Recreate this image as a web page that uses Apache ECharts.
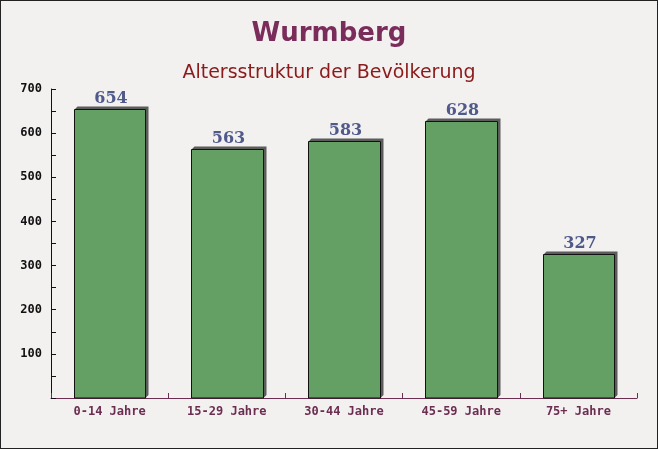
<!DOCTYPE html>
<html>
<head>
<meta charset="utf-8">
<script src="https://cdn.jsdelivr.net/npm/echarts@6/dist/echarts.min.js"></script>
<style>
html,body{margin:0;padding:0;}
#main{width:658px;height:449px;box-sizing:border-box;border:1px solid #222;background:#f3f0f0;}
</style>
</head>
<body>
<div id="main"></div>
<script>
var categories = ["0-14 Jahre", "15-29 Jahre", "30-44 Jahre", "45-59 Jahre", "75+ Jahre"];
var values = [654, 563, 583, 628, 327];
var yTicks = [0, 100, 200, 300, 400, 500, 600, 700];

// bar with a small extruded side, drawn from the axis scales
function renderBar(params, api) {
  var top = api.coord([api.value(0), api.value(1)]);
  var base = api.coord([api.value(0), 0]);
  var w = api.size([1, 0])[0] * 0.61;
  var x0 = Math.round(top[0] - w / 2) + 0.5;
  var x1 = Math.round(top[0] + w / 2) + 0.5;
  var y0 = Math.round(top[1]) + 0.5;
  var y1 = Math.round(base[1]);
  var d = 3;
  return {
    type: 'group',
    children: [
      {
        type: 'polygon',
        shape: {points: [[x0, y0], [x0 + d, y0 - d], [x1 + d, y0 - d], [x1 + d, y1 - d], [x1, y1], [x1, y0]]},
        style: {fill: '#5c5c5c', stroke: null}
      },
      {
        type: 'rect',
        shape: {x: x0, y: y0, width: x1 - x0, height: y1 - y0},
        style: {fill: '#64a064', stroke: '#111', lineWidth: 1}
      },
      {
        type: 'text',
        style: {
          text: String(api.value(1)),
          x: (x0 + x1) / 2 + 1,
          y: y0 - 3,
          align: 'center',
          verticalAlign: 'bottom',
          font: 'bold 16px "DejaVu Serif"',
          fill: '#4f5a8a'
        }
      }
    ]
  };
}

var myChart = echarts.init(document.getElementById('main'));
myChart.setOption({
  animation: false,
  title: [
    {
      text: 'Wurmberg',
      left: 'center',
      top: 15,
      textStyle: {fontFamily: 'DejaVu Sans', fontWeight: 'bold', fontSize: 26, color: '#7a2c5b'}
    },
    {
      text: 'Altersstruktur der Bevölkerung',
      left: 'center',
      top: 58,
      textStyle: {fontFamily: 'DejaVu Sans', fontWeight: 'normal', fontSize: 19, color: '#8b1a1a'}
    }
  ],
  grid: {left: 50, right: 20, top: 88, bottom: 50},
  xAxis: {
    type: 'category',
    data: categories,
    axisLine: {lineStyle: {color: '#6b2d50', width: 1}},
    axisTick: {show: true, inside: true, length: 5, lineStyle: {color: '#6b2d50'}},
    axisLabel: {fontFamily: 'DejaVu Sans Mono', fontWeight: 'bold', fontSize: 12, color: '#6b2d50', margin: 8}
  },
  yAxis: {
    type: 'value',
    min: yTicks[0],
    max: yTicks[yTicks.length - 1],
    interval: 100,
    axisLine: {show: true, lineStyle: {color: '#111', width: 1}},
    axisTick: {show: true, inside: true, length: 5, lineStyle: {color: '#111'}},
    minorTick: {show: true, splitNumber: 2, length: 5, lineStyle: {color: '#111'}},
    splitLine: {show: false},
    axisLabel: {
      fontFamily: 'DejaVu Sans Mono', fontWeight: 'bold', fontSize: 12, color: '#111', margin: 9,
      formatter: function (v) { return v === 0 ? '' : v; }
    }
  },
  series: [{
    type: 'custom',
    renderItem: renderBar,
    encode: {x: 0, y: 1},
    data: values.map(function (v, i) { return [i, v]; })
  }]
});
</script>
</body>
</html>
